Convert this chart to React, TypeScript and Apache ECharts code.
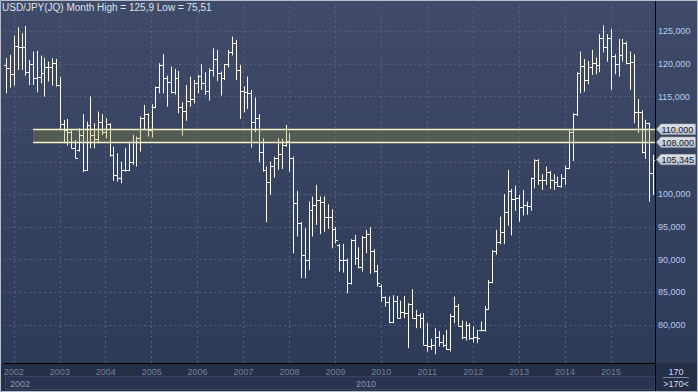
import React, { useEffect, useRef } from 'react';
import * as echarts from 'echarts';

// First bar: November 2001, one bar per month
const startYear = 2001;
const startMonth = 11;

const opens = [
  119.84, 119.33, 118.41, 122.8, 122.55, 122.55, 118.82, 119.94, 117.8, 118.06,
  118.57, 119.59, 119.59, 120.1, 116.7, 110.76, 109.89, 109.63, 107.18, 106.8,
  109.12, 103.76, 110.65, 109.12, 108.51, 111.16, 109.63, 110.76, 106.06, 102.99,
  102.59, 103.76, 103.76, 105.04, 108.1, 108.7, 111.67, 112.29, 109.89, 113.46,
  116.4, 119.84, 117.9, 117.29, 115.76, 117.8, 113.46, 112.8, 114.33, 114.64,
  117.03, 118.21, 117.03, 115.86, 119.08, 120.76, 118.57, 117.9, 119.94, 121.9,
  123.16, 119.08, 115.86, 115.76, 115.5, 111.16, 111.67, 106.47, 103.76, 101.87,
  104.43, 105.55, 106.16, 107.59, 108.2, 105.65, 98.66, 95.6, 90.74, 89.98,
  97.64, 98.4, 99.17, 98.9, 96.61, 96.61, 94.67, 92.2, 89.97, 89.97,
  86.4, 93.04, 90.23, 88.95, 93.55, 93.96, 91.4, 88.34, 86.0, 84.26,
  83.6, 80.43, 83.7, 81.1, 82.06, 81.81, 83.24, 81.1, 81.55, 81.04,
  77.0, 76.71, 76.96, 78.13, 77.47, 76.96, 76.29, 81.45, 82.98, 79.9,
  78.23, 80.02, 77.98, 78.23, 79.2, 79.26, 82.42, 86.66, 91.3, 92.69,
  94.22, 97.38, 100.55, 99.32, 99.4, 98.14, 98.4, 98.3, 102.49, 105.29,
  102.23, 102.23, 103.41, 102.23, 101.98, 101.36, 102.59, 104.12, 109.63, 112.29,
  118.57, 119.74, 117.55, 119.59, 120.1, 119.84, 123.93, 122.55, 123.93, 121.27,
  119.94, 121.37, 123.16, 120.1, 120.35, 112.7, 112.7, 106.57, 110.91, 103.25,
];

const highs = [
  120.86, 121.37, 124.33, 125.61, 124.69, 125.8, 120.61, 121.88, 121.99, 121.27,
  120.97, 120.35, 120.86, 120.76, 117.95, 111.42, 111.57, 109.89, 108.36, 110.14,
  112.29, 111.16, 114.99, 110.91, 112.7, 112.29, 111.67, 110.9, 107.33, 106.31,
  105.04, 107.08, 107.85, 109.12, 108.87, 111.93, 113.72, 112.44, 113.82, 116.52,
  120.1, 121.48, 118.21, 119.59, 119.23, 118.92, 114.12, 116.78, 118.06, 117.55,
  118.31, 119.94, 118.72, 119.33, 122.39, 122.14, 118.82, 119.99, 122.14, 124.18,
  123.67, 119.84, 116.52, 118.06, 116.01, 114.84, 112.29, 108.61, 104.27, 105.04,
  105.8, 108.61, 108.51, 110.65, 109.38, 105.8, 100.55, 95.8, 94.83, 98.91,
  99.68, 101.47, 99.68, 99.7, 98.5, 97.73, 95.0, 92.43, 92.43, 90.2,
  93.14, 93.8, 91.91, 93.65, 94.57, 94.98, 91.6, 89.21, 86.2, 84.36,
  84.36, 84.56, 84.46, 83.75, 84.46, 83.34, 85.48, 82.32, 81.8, 81.81,
  80.28, 77.88, 79.51, 79.1, 78.49, 79.26, 81.71, 84.36, 83.24, 80.69,
  80.53, 80.28, 79.77, 79.26, 80.53, 82.93, 86.91, 91.51, 94.57, 96.62,
  100.04, 103.76, 100.85, 101.36, 99.93, 100.7, 98.91, 102.59, 105.4, 105.4,
  103.1, 104.27, 103.6, 103.1, 102.74, 103.1, 104.43, 109.89, 112.44, 118.7,
  121.88, 120.76, 120.46, 122.14, 120.97, 124.54, 125.9, 124.54, 125.36, 121.48,
  123.82, 123.82, 123.42, 121.88, 121.48, 114.64, 112.9, 111.42, 111.0, 106.06,
];

const lows = [
  115.5, 116.37, 116.68, 119.08, 119.08, 118.21, 116.78, 116.78, 115.66, 117.03,
  114.99, 117.29, 116.68, 116.52, 109.89, 107.85, 107.49, 107.08, 105.55, 106.57,
  103.4, 103.6, 107.08, 107.08, 107.85, 109.12, 108.61, 105.8, 102.08, 101.98,
  101.72, 103.51, 103.6, 104.53, 104.27, 106.57, 109.89, 108.87, 108.71, 113.21,
  115.5, 115.5, 113.46, 115.5, 115.3, 112.44, 109.02, 111.27, 113.46, 113.97,
  115.5, 116.01, 115.25, 114.38, 118.06, 117.39, 115.15, 117.55, 119.43, 121.3,
  117.55, 111.57, 112.6, 113.1, 107.18, 109.53, 104.94, 103.5, 95.75, 99.93,
  102.59, 103.76, 103.91, 107.3, 103.51, 91.0, 93.56, 87.17, 87.17, 88.45,
  93.56, 95.34, 93.91, 94.3, 94.72, 91.76, 92.5, 88.19, 88.04, 84.87,
  86.2, 89.21, 88.7, 88.19, 91.0, 87.83, 88.04, 85.89, 83.6, 82.83,
  80.28, 80.28, 81.04, 81.0, 81.04, 76.45, 81.04, 79.51, 79.51, 76.96,
  75.94, 76.19, 75.51, 76.71, 76.6, 76.19, 75.94, 80.28, 79.87, 77.83,
  77.62, 77.72, 77.32, 77.21, 79.0, 79.0, 82.32, 86.4, 90.75, 92.38,
  92.38, 95.24, 93.71, 97.48, 95.85, 96.77, 96.87, 97.48, 100.96, 101.47,
  100.7, 101.47, 100.85, 100.7, 101.21, 101.06, 101.47, 103.91, 105.14, 112.0,
  115.5, 115.76, 116.88, 118.31, 118.41, 118.72, 121.78, 120.35, 116.01, 118.41,
  118.06, 120.35, 119.94, 116.01, 110.91, 109.38, 106.31, 105.45, 98.91, 99.93,
];

const closes = [
  119.33, 118.41, 122.8, 122.55, 122.55, 118.82, 119.94, 117.8, 118.06, 118.57,
  119.59, 119.59, 120.1, 116.7, 110.76, 109.89, 109.63, 107.18, 105.65, 109.12,
  103.76, 110.65, 109.12, 108.51, 111.16, 109.63, 110.76, 106.06, 102.99, 102.59,
  103.76, 103.76, 105.04, 108.1, 108.7, 111.67, 112.29, 109.89, 113.46, 116.4,
  119.84, 117.9, 117.29, 115.76, 117.8, 113.46, 112.8, 114.33, 114.64, 117.03,
  118.21, 117.03, 115.86, 119.08, 120.76, 118.57, 117.9, 119.94, 121.9, 123.16,
  119.08, 115.86, 115.76, 115.5, 111.16, 111.67, 106.47, 103.76, 101.87, 104.43,
  105.55, 106.16, 107.59, 108.2, 105.65, 98.66, 95.6, 90.74, 89.98, 97.64,
  98.4, 99.17, 98.9, 96.61, 96.61, 94.67, 93.04, 89.97, 89.97, 86.4,
  93.04, 90.23, 88.95, 93.55, 93.96, 91.4, 88.34, 86.4, 84.26, 83.6,
  80.43, 83.7, 81.1, 82.06, 81.81, 83.24, 81.1, 81.55, 81.04, 77.0,
  76.71, 76.96, 78.13, 77.47, 76.96, 76.29, 81.45, 82.98, 79.9, 78.23,
  80.02, 77.98, 78.23, 77.98, 79.26, 82.42, 86.66, 91.3, 92.69, 94.22,
  97.38, 100.55, 99.32, 99.4, 98.14, 98.4, 98.3, 102.49, 105.29, 102.23,
  102.23, 103.41, 102.23, 101.98, 101.36, 102.59, 104.12, 109.63, 112.29, 118.57,
  119.74, 117.55, 119.59, 120.1, 119.84, 123.93, 122.55, 123.93, 121.27, 119.94,
  121.37, 123.16, 120.1, 120.35, 112.7, 112.7, 106.57, 110.91, 103.25, 105.345,
];

const bandLow = 108;
const bandHigh = 110;
const bandStartIndex = 7;
const tagValues = [110, 108, 105.345];
const yGridValues = [80, 85, 90, 95, 100, 105, 110, 115, 120, 125];
const navigatorLabels = ['2002', '2010'];
const yMin = 74.18;
const yMax = 129.33;

const categories: string[] = opens.map((_, i) => {
  const m = startMonth - 1 + i;
  const y = startYear + Math.floor(m / 12);
  const mm = (m % 12) + 1;
  return `${y}-${String(mm).padStart(2, '0')}`;
});

const FONT = '"Liberation Sans", Arial, sans-serif';
const fmt3 = (v: number) => v.toFixed(3).replace('.', ',');
const fmtShort = (v: number) => String(v).replace('.', ',');

export default function App() {
  const ref = useRef<HTMLDivElement>(null);

  useEffect(() => {
    if (!ref.current) return;
    const chart = echarts.init(ref.current, undefined, { renderer: 'svg' });
    const hi = Math.max(...highs);
    const lo = Math.min(...lows);
    const gridColor = '#56627e';

    const option: any = {
      animation: false,
      backgroundColor: 'transparent',
      title: {
        text: `USD/JPY(JQ) Month High = ${fmtShort(hi)} Low = ${fmtShort(lo)}`,
        left: 2,
        top: 2,
        padding: 0,
        z: 20,
        textStyle: { color: '#dfe3ea', fontSize: 10, fontWeight: 'normal', fontFamily: FONT },
      },
      grid: { left: 4.3, top: 3, width: 650.7, height: 360 },
      xAxis: {
        type: 'category',
        data: categories,
        boundaryGap: true,
        axisLine: { show: true, lineStyle: { color: '#000000', width: 1 } },
        axisTick: { show: false },
        splitLine: { show: false },
        axisLabel: {
          interval: (_idx: number, val: string) => val.endsWith('-01'),
          formatter: (val: string) => val.slice(0, 4),
          color: '#76819a',
          fontSize: 9,
          fontFamily: FONT,
          margin: 4,
        },
      },
      yAxis: {
        type: 'value',
        position: 'right',
        min: yMin,
        max: yMax,
        splitNumber: 11,
        axisLine: { show: false },
        axisTick: { show: false },
        splitLine: { show: false },
        axisLabel: {
          margin: 3,
          color: '#b6cdf2',
          fontSize: 9,
          fontFamily: FONT,
          formatter: (v: number) => {
            const r = Math.round(v);
            const onTick = Math.abs(v - r) < 1e-6 && r % 5 === 0 && r >= 80 && r <= 125;
            const coveredByTag = tagValues.some((t) => Math.abs(t - r) < 1);
            return onTick && !coveredByTag ? fmt3(r) : '';
          },
        },
      },
      series: [
        {
          type: 'line',
          data: [],
          z: 1,
          silent: true,
          markLine: {
            silent: true,
            z: 1,
            symbol: ['none', 'none'],
            label: { show: false },
            lineStyle: { color: gridColor, type: [2, 3], width: 1 },
            data: [
              ...yGridValues.map((v) => ({ yAxis: v })),
              ...categories.filter((c) => c.endsWith('-01')).map((c) => ({ xAxis: c })),
            ],
          },
        },
        {
          type: 'custom',
          z: 6,
          silent: true,
          data: opens.map((o, i) => [i, o, highs[i], lows[i], closes[i]]),
          encode: { x: 0, y: [1, 2, 3, 4] },
          renderItem: (_params: any, api: any) => {
            const i = api.value(0);
            const pO = api.coord([i, api.value(1)]);
            const pH = api.coord([i, api.value(2)]);
            const pL = api.coord([i, api.value(3)]);
            const pC = api.coord([i, api.value(4)]);
            const x = Math.round(pH[0]) + 0.5;
            const yo = Math.round(pO[1]) + 0.5;
            const yc = Math.round(pC[1]) + 0.5;
            const style = { stroke: '#fffdf2', lineWidth: 1 };
            return {
              type: 'group',
              children: [
                { type: 'line', shape: { x1: x, y1: pH[1], x2: x, y2: pL[1] }, style },
                { type: 'line', shape: { x1: x - 2.5, y1: yo, x2: x, y2: yo }, style },
                { type: 'line', shape: { x1: x, y1: yc, x2: x + 2.5, y2: yc }, style },
              ],
            };
          },
        },
        {
          type: 'custom',
          z: 7,
          silent: true,
          data: [[bandStartIndex, bandLow, bandHigh]],
          encode: { x: 0, y: [1, 2] },
          renderItem: (params: any, api: any) => {
            const pTop = api.coord([api.value(0), api.value(2)]);
            const pBot = api.coord([api.value(0), api.value(1)]);
            const right = params.coordSys.x + params.coordSys.width;
            const x0 = pTop[0];
            const yt = Math.round(pTop[1]) + 0.5;
            const yb = Math.round(pBot[1]) + 0.5;
            const lineStyle = { stroke: '#f7f3c6', lineWidth: 1.3 };
            return {
              type: 'group',
              children: [
                {
                  type: 'rect',
                  shape: { x: x0, y: yt, width: right - x0, height: yb - yt },
                  style: { fill: 'rgba(150,156,52,0.28)' },
                },
                { type: 'line', shape: { x1: x0, y1: yt, x2: right, y2: yt }, style: lineStyle },
                { type: 'line', shape: { x1: x0, y1: yb, x2: right, y2: yb }, style: lineStyle },
              ],
            };
          },
        },
        {
          type: 'custom',
          z: 8,
          silent: true,
          clip: false,
          data: tagValues.map((v) => [0, v]),
          encode: { x: 0, y: 1 },
          renderItem: (params: any, api: any) => {
            const v = api.value(1);
            const p = api.coord([0, v]);
            const right = params.coordSys.x + params.coordSys.width;
            const y = p[1];
            const tip = right + 1.5;
            const h = 5.2;
            return {
              type: 'group',
              children: [
                {
                  type: 'polygon',
                  shape: {
                    points: [
                      [tip, y],
                      [tip + 4.5, y - h],
                      [tip + 39, y - h],
                      [tip + 39, y + h],
                      [tip + 4.5, y + h],
                    ],
                  },
                  style: {
                    fill: new echarts.graphic.LinearGradient(0, 0, 0, 1, [
                      { offset: 0, color: '#e1e4e8' },
                      { offset: 1, color: '#b9bfc7' },
                    ]),
                    stroke: '#9aa2ae',
                    lineWidth: 0.6,
                  },
                },
                {
                  type: 'text',
                  style: {
                    x: tip + 5,
                    y: y + 0.5,
                    text: fmt3(v),
                    fill: '#10203c',
                    font: `9px ${FONT}`,
                    textAlign: 'left',
                    textVerticalAlign: 'middle',
                  },
                },
              ],
            };
          },
        },
      ],
      graphic: [
        {
          type: 'rect',
          z: 50,
          silent: true,
          shape: { x: 5.5, y: 376.5, width: 649, height: 13 },
          style: { fill: '#293550', stroke: '#37435e', lineWidth: 1 },
        },
        {
          type: 'text',
          z: 51,
          silent: true,
          style: { x: 10, y: 383.5, text: navigatorLabels[0], fill: '#8a94a8', font: `9px ${FONT}`, textVerticalAlign: 'middle' },
        },
        {
          type: 'text',
          z: 51,
          silent: true,
          style: { x: 356, y: 383.5, text: navigatorLabels[1], fill: '#8a94a8', font: `9px ${FONT}`, textVerticalAlign: 'middle' },
        },
        {
          type: 'line',
          z: 60,
          silent: true,
          shape: { x1: 655.5, y1: 0, x2: 655.5, y2: 392 },
          style: { stroke: '#000000', lineWidth: 1 },
        },
        {
          type: 'text',
          z: 51,
          silent: true,
          style: { x: 676, y: 371.5, text: String(closes.length), fill: '#d6dce6', font: `9px ${FONT}`, textAlign: 'center', textVerticalAlign: 'middle' },
        },
        {
          type: 'line',
          z: 51,
          silent: true,
          shape: { x1: 663, y1: 377.5, x2: 689, y2: 377.5 },
          style: { stroke: '#7d889c', lineWidth: 1 },
        },
        {
          type: 'text',
          z: 51,
          silent: true,
          style: { x: 676, y: 383.5, text: `>${closes.length}<`, fill: '#d6dce6', font: `9px ${FONT}`, textAlign: 'center', textVerticalAlign: 'middle' },
        },
        {
          type: 'rect',
          z: 70,
          silent: true,
          shape: { x: 0.5, y: 0.5, width: 697, height: 391 },
          style: { fill: 'none', stroke: '#b7bfca', lineWidth: 1 },
        },
      ],
    };

    chart.setOption(option);
    return () => chart.dispose();
  }, []);

  return (
    <div
      ref={ref}
      style={{
        position: 'fixed',
        left: 0,
        top: 0,
        width: 698,
        height: 392,
        background:
          'linear-gradient(to bottom, #3f4b68 0px, #2d3a58 363px, #252f47 363px, #252f47 392px)',
      }}
    />
  );
}
